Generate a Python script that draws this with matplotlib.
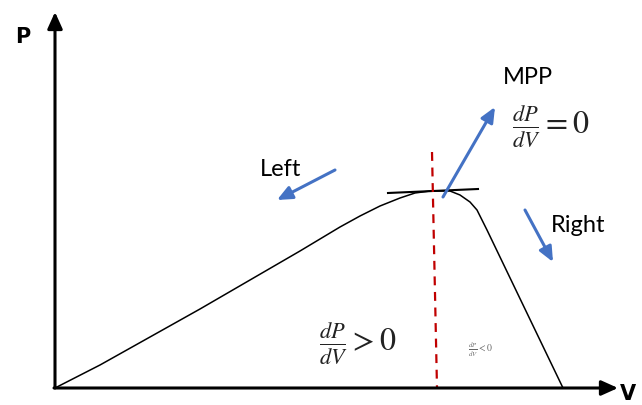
import matplotlib
matplotlib.use("Agg")
import matplotlib.pyplot as plt

plt.rcParams['mathtext.fontset'] = 'stix'

# P-V curve (V to the right, P up), units from the axis origin
volt = [0, 45, 95, 145, 195, 245, 285, 305, 325, 345, 360, 375, 395, 405, 415, 422, 432, 470, 508]
power = [0, 23, 51, 79, 108, 137, 161, 172, 182, 190, 195, 197, 197, 193, 186, 178, 158, 79, 0]

mpp_line_v = [377, 382]
mpp_line_p = [236, 0]
tangent_v = [333, 423]
tangent_p = [195, 199]

fig = plt.figure(figsize=(6.42, 4.05), dpi=100)
ax = fig.add_axes([0, 0, 1, 1])
ax.set_xlim(-55, 587)
ax.set_ylim(-17, 388)
ax.axis('off')

# axes with arrow heads
ax.annotate('', xy=(0, 376), xytext=(0, 0),
            arrowprops=dict(arrowstyle='-|>,head_length=1.0,head_width=0.45', lw=2.2, color='black', shrinkA=0, shrinkB=0))
ax.annotate('', xy=(563, 0), xytext=(-1, 0),
            arrowprops=dict(arrowstyle='-|>,head_length=1.0,head_width=0.45', lw=2.2, color='black', shrinkA=0, shrinkB=0))

ax.plot(volt, power, color='black', lw=1.1, solid_joinstyle='round')
ax.plot(tangent_v, tangent_p, color='black', lw=1.5)
ax.plot(mpp_line_v, mpp_line_p, color='#C00000', lw=1.6, ls=(0, (4, 3)))

blue = '#4472C4'
arrow_kw = dict(arrowstyle='-|>,head_length=0.9,head_width=0.4', lw=2.2, color=blue, shrinkA=0, shrinkB=0)
ax.annotate('', xy=(222, 188), xytext=(280, 218), arrowprops=arrow_kw)
ax.annotate('', xy=(440, 281), xytext=(388, 191), arrowprops=arrow_kw)
ax.annotate('', xy=(498, 126), xytext=(470, 178), arrowprops=arrow_kw)

font = 'Lato'
ax.text(-32, 351, 'P', fontsize=15, fontweight='bold', family='DejaVu Sans', ha='center', va='center')
ax.text(573, -6, 'V', fontsize=15, fontweight='bold', family='DejaVu Sans', ha='center', va='center')
ax.text(205, 219, 'Left', fontsize=17, family=font, ha='left', va='center')
ax.text(496, 163, 'Right', fontsize=17, family=font, ha='left', va='center')
ax.text(448, 310, 'MPP', fontsize=17, family=font, ha='left', va='center')
ax.text(457, 262, r'$\frac{dP}{dV} = 0$', fontsize=23, ha='left', va='center', color='#222222')
ax.text(264, 45, r'$\frac{dP}{dV} > 0$', fontsize=23, ha='left', va='center', color='#222222')
ax.text(413, 38, r'$\frac{dP}{dV} < 0$', fontsize=7, ha='left', va='center', color='#666666')

fig.savefig('out.png', dpi=100)
